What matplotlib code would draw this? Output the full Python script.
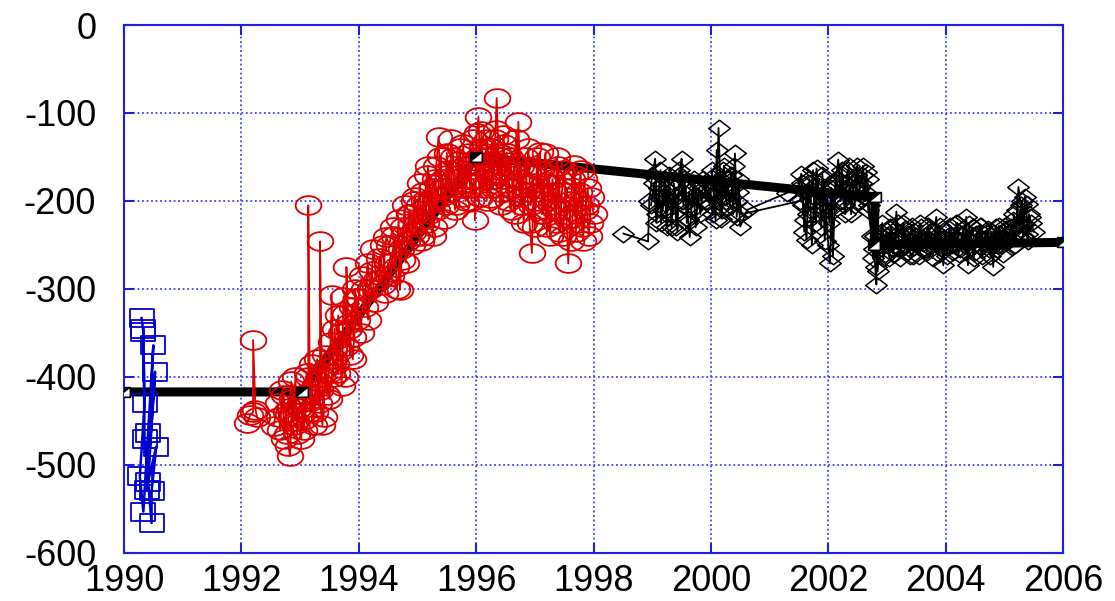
import numpy as np
import matplotlib
matplotlib.use('Agg')
import matplotlib.pyplot as plt
from matplotlib.path import Path

plt.rcParams['font.family'] = ['Liberation Sans', 'DejaVu Sans']
plt.rcParams['axes.unicode_minus'] = False

# blue squares (early measurements)
blue_x = [1990.30, 1990.33, 1990.35, 1990.27, 1990.33, 1990.41, 1990.50, 1990.39,
          1990.53, 1990.41, 1990.55, 1990.47, 1990.47, 1990.35, 1990.33]
blue_y = [-333, -349, -430, -513, -553, -464, -364, -528,
          -394, -519, -479, -530, -566, -470, -345]

# red circles, first trace
red_x = [1992.10, 1992.15, 1992.20, 1992.20, 1992.24, 1992.27, 1992.55,
         1992.62, 1992.66, 1992.70, 1992.73, 1992.76, 1992.80, 1992.83, 1992.86, 1992.89, 1992.92, 1992.95, 1992.98,
         1993.02, 1993.05, 1993.08, 1993.11, 1993.14, 1993.14, 1993.17, 1993.20, 1993.23, 1993.26, 1993.29,
         1993.32, 1993.34, 1993.34, 1993.37, 1993.40, 1993.43, 1993.46, 1993.49,
         1993.52, 1993.54, 1993.56, 1993.59, 1993.62, 1993.65, 1993.68, 1993.71, 1993.74, 1993.77, 1993.79,
         1993.79, 1993.82, 1993.85, 1993.88, 1993.91, 1993.94, 1993.97,
         1994.00, 1994.05, 1994.10, 1994.15, 1994.20, 1994.25, 1994.30, 1994.35, 1994.40, 1994.47, 1994.52,
         1994.58, 1994.63, 1994.68, 1994.70, 1994.73, 1994.78, 1994.82, 1994.87, 1994.92, 1994.96,
         1995.00, 1995.04, 1995.08, 1995.12, 1995.16, 1995.20, 1995.24, 1995.28, 1995.32, 1995.36, 1995.40,
         1995.44, 1995.48,
         1995.52, 1995.56, 1995.60, 1995.64, 1995.68, 1995.72, 1995.76, 1995.80, 1995.84, 1995.88, 1995.92,
         1995.96, 1995.98,
         1996.01, 1996.04, 1996.07, 1996.10, 1996.13, 1996.16, 1996.19, 1996.22, 1996.24, 1996.27, 1996.30,
         1996.33, 1996.35, 1996.38, 1996.41, 1996.44, 1996.47,
         1996.50, 1996.54, 1996.58, 1996.62, 1996.66, 1996.70, 1996.72, 1996.75, 1996.79, 1996.83, 1996.87,
         1996.91, 1996.95, 1996.98,
         1997.02, 1997.06, 1997.09, 1997.12, 1997.16, 1997.20, 1997.24, 1997.28, 1997.32, 1997.36, 1997.40,
         1997.44, 1997.48, 1997.52, 1997.57, 1997.60, 1997.64, 1997.66, 1997.70, 1997.74, 1997.78, 1997.82,
         1997.86, 1997.90, 1997.94]
red_y = [-452, -443, -440, -358, -437, -446, -456,
         -430, -460, -415, -470, -440, -478, -490, -425, -455, -400, -465, -435,
         -470, -420, -448, -395, -420, -205, -440, -385, -455, -410, -380,
         -430, -415, -246, -400, -445, -375, -420, -395,
         -360, -307, -400, -345, -385, -330, -370, -410, -309, -328, -365,
         -275, -340, -375, -320, -355, -300, -335,
         -310, -285, -320, -270, -300, -255, -290, -265, -295, -241, -250,
         -230, -275, -220, -301, -267, -205, -245, -215, -235, -195,
         -225, -180, -240, -200, -170, -215, -185, -230, -160, -127, -195,
         -175, -205,
         -165, -190, -150, -210, -170, -140, -195, -160, -180, -145, -200,
         -175, -222,
         -123, -104, -160, -140, -185, -150, -130, -170, -197, -155, -175,
         -119, -83, -145, -190, -160, -135,
         -165, -200, -150, -185, -215, -160, -110, -175, -205, -150, -190,
         -225, -259, -180,
         -200, -165, -144, -215, -180, -230, -170, -205, -190, -225, -160,
         -210, -240, -185, -271, -220, -175, -159, -235, -200, -165, -245,
         -210, -185, -225]

# red circles, second trace
red2_x = [1992.64, 1992.72, 1992.78, 1992.85, 1992.93, 1993.00, 1993.07, 1993.13, 1993.19, 1993.25,
          1993.31, 1993.38, 1993.44, 1993.50, 1993.57, 1993.63, 1993.70, 1993.76, 1993.83, 1993.90,
          1993.96, 1994.03, 1994.09, 1994.16, 1994.22, 1994.28, 1994.34, 1994.41, 1994.45, 1994.50,
          1994.55, 1994.60, 1994.65, 1994.72, 1994.76, 1994.80, 1994.85, 1994.90, 1994.94, 1994.98,
          1995.02, 1995.06, 1995.10, 1995.14, 1995.18, 1995.22, 1995.26, 1995.30, 1995.34, 1995.38,
          1995.42, 1995.46, 1995.50, 1995.54, 1995.58, 1995.62, 1995.66, 1995.70, 1995.74, 1995.78,
          1995.82, 1995.86, 1995.90, 1995.94, 1995.99, 1996.03, 1996.06, 1996.09, 1996.12, 1996.15,
          1996.18, 1996.21, 1996.26, 1996.29, 1996.32, 1996.37, 1996.40, 1996.43, 1996.46, 1996.49,
          1996.52, 1996.56, 1996.60, 1996.64, 1996.68, 1996.74, 1996.77, 1996.81, 1996.85, 1996.89,
          1996.93, 1996.97, 1997.00, 1997.04, 1997.08, 1997.11, 1997.14, 1997.18, 1997.22, 1997.26,
          1997.30, 1997.34, 1997.38, 1997.42, 1997.46, 1997.50, 1997.54, 1997.58, 1997.62, 1997.68,
          1997.72, 1997.76, 1997.80, 1997.84, 1997.88, 1997.92, 1997.96, 1998.00]
red2_y = [-445, -420, -465, -405, -450, -430, -460, -400, -425, -440,
          -405, -455, -390, -425, -380, -395, -350, -400, -345, -380,
          -310, -350, -300, -335, -280, -315, -290, -250, -305, -270,
          -285, -240, -300, -255, -230, -270, -215, -250, -200, -240,
          -205, -245, -190, -225, -160, -200, -240, -175, -210, -150,
          -185, -220, -145, -190, -130, -175, -205, -155, -185, -135,
          -200, -160, -185, -130, -165, -150, -195, -120, -175, -145,
          -200, -160, -140, -185, -130, -170, -150, -205, -125, -175,
          -145, -185, -210, -165, -130, -195, -160, -225, -180, -140,
          -205, -170, -230, -150, -190, -165, -215, -145, -200, -240,
          -175, -210, -150, -235, -190, -165, -220, -200, -245, -170,
          -215, -190, -230, -175, -205, -240, -195, -215]

# black diamonds, first trace
blk_x = [1998.51, 1998.93, 1998.95, 1999.00, 1999.05, 1999.08, 1999.12, 1999.15, 1999.19, 1999.22,
         1999.26, 1999.30, 1999.33, 1999.37, 1999.41, 1999.44, 1999.48, 1999.50, 1999.53, 1999.57,
         1999.61, 1999.64, 1999.68, 1999.72, 1999.76, 1999.80, 1999.84,
         1999.95, 1999.98, 2000.02, 2000.05, 2000.08, 2000.10, 2000.10, 2000.13, 2000.16, 2000.19,
         2000.22, 2000.26, 2000.30, 2000.34, 2000.38, 2000.41, 2000.44, 2000.47, 2000.50,
         2000.62, 2001.29, 2001.50, 2001.54, 2001.57, 2001.60, 2001.63, 2001.66, 2001.70, 2001.74,
         2001.77, 2001.80, 2001.84, 2001.88, 2001.92, 2001.96, 2002.00, 2002.03, 2002.06, 2002.08,
         2002.12, 2002.17, 2002.21, 2002.25, 2002.29, 2002.33, 2002.37, 2002.41, 2002.45, 2002.49,
         2002.53, 2002.57, 2002.61, 2002.65, 2002.68,
         2002.74, 2002.78, 2002.82, 2002.82, 2002.86, 2002.90, 2002.94, 2002.98,
         2003.02, 2003.06, 2003.10, 2003.14, 2003.16, 2003.20, 2003.24, 2003.28, 2003.32, 2003.36,
         2003.40, 2003.44, 2003.48, 2003.52, 2003.56, 2003.60, 2003.64, 2003.68, 2003.72, 2003.76,
         2003.80, 2003.84, 2003.88, 2003.92, 2003.96, 2004.00, 2004.04, 2004.08, 2004.12, 2004.16,
         2004.20, 2004.24, 2004.28, 2004.32, 2004.35, 2004.38, 2004.42, 2004.46, 2004.50, 2004.54,
         2004.58, 2004.62, 2004.66, 2004.70, 2004.74, 2004.78, 2004.81, 2004.85, 2004.89, 2004.93,
         2004.97, 2005.01, 2005.05, 2005.09, 2005.13,
         2005.16, 2005.20, 2005.24, 2005.28, 2005.32, 2005.35, 2005.38, 2005.38, 2005.42, 2005.46, 2005.50]
blk_y = [-237, -246, -200, -170, -152, -215, -185, -225, -195, -175,
         -210, -190, -230, -180, -229, -200, -170, -152, -205, -185,
         -220, -241, -195, -175, -210, -185, -200,
         -180, -205, -165, -195, -222, -142, -190, -117, -175, -210,
         -160, -200, -185, -170, -215, -146, -218, -190, -229,
         -210, -191, -185, -169, -205, -222, -244, -180, -200, -165,
         -215, -163, -190, -230, -175, -210, -250, -271, -195, -263,
         -180, -153, -200, -170, -215, -165, -190, -175, -205, -160,
         -185, -170, -195, -167, -210,
         -240, -255, -295, -275, -250, -235, -265, -245,
         -250, -230, -260, -240, -212, -245, -255, -225, -250, -238,
         -262, -263, -235, -248, -225, -255, -240, -258, -232, -250,
         -245, -218, -260, -240, -273, -235, -252, -228, -258, -242,
         -225, -255, -238, -250, -218, -273, -245, -230, -258, -240,
         -228, -262, -245, -235, -255, -240, -275, -230, -250, -238,
         -260, -228, -245, -235, -252,
         -215, -230, -184, -205, -240, -195, -203, -237, -215, -225, -235]

# black diamonds, second trace
blk2_x = [1998.98, 1999.03, 1999.07, 1999.11, 1999.14, 1999.18, 1999.21, 1999.25, 1999.28, 1999.32,
          1999.35, 1999.39, 1999.43, 1999.46, 1999.52, 1999.55, 1999.59, 1999.63, 1999.66, 1999.70,
          1999.74, 1999.78, 1999.82, 1999.87, 1999.92, 1999.99, 2000.03, 2000.07, 2000.12, 2000.15,
          2000.18, 2000.21, 2000.24, 2000.28, 2000.32, 2000.36, 2000.40, 2000.43, 2000.46, 2000.52,
          2001.52, 2001.56, 2001.59, 2001.62, 2001.65, 2001.68, 2001.72, 2001.76, 2001.79, 2001.82,
          2001.86, 2001.90, 2001.94, 2001.98, 2002.02, 2002.05, 2002.10, 2002.14, 2002.19, 2002.23,
          2002.27, 2002.31, 2002.35, 2002.39, 2002.43, 2002.47, 2002.51, 2002.55, 2002.59, 2002.63,
          2002.67, 2002.70, 2002.76, 2002.80, 2002.84, 2002.88, 2002.92, 2002.96, 2003.00, 2003.04,
          2003.08, 2003.12, 2003.18, 2003.22, 2003.26, 2003.30, 2003.34, 2003.38, 2003.42, 2003.46,
          2003.50, 2003.54, 2003.58, 2003.62, 2003.66, 2003.70, 2003.74, 2003.78, 2003.82, 2003.86,
          2003.90, 2003.94, 2003.98, 2004.02, 2004.06, 2004.10, 2004.14, 2004.18, 2004.22, 2004.26,
          2004.30, 2004.34, 2004.37, 2004.40, 2004.44, 2004.48, 2004.52, 2004.56, 2004.60, 2004.64,
          2004.68, 2004.72, 2004.76, 2004.80, 2004.83, 2004.87, 2004.91, 2004.95, 2004.99, 2005.03,
          2005.07, 2005.11, 2005.15, 2005.18, 2005.22, 2005.26, 2005.30, 2005.34, 2005.40, 2005.44]
blk2_y = [-205, -180, -225, -195, -165, -210, -185, -230, -170, -200,
          -215, -185, -235, -165, -200, -175, -225, -190, -210, -180,
          -230, -195, -215, -175, -200, -190, -215, -170, -200, -180,
          -220, -165, -195, -175, -205, -185, -160, -200, -175, -215,
          -200, -180, -235, -190, -215, -175, -250, -195, -225, -180,
          -210, -170, -245, -195, -225, -185, -210, -175, -195, -165,
          -205, -180, -160, -215, -185, -170, -200, -180, -160, -190,
          -175, -205, -265, -240, -280, -250, -225, -260, -240, -265,
          -230, -255, -225, -265, -240, -232, -258, -245, -228, -252,
          -240, -262, -230, -248, -255, -228, -245, -265, -235, -250,
          -228, -255, -242, -262, -232, -250, -240, -225, -260, -245,
          -232, -258, -248, -226, -252, -265, -238, -250, -228, -255,
          -242, -232, -262, -248, -236, -255, -228, -250, -242, -232,
          -245, -230, -222, -250, -210, -232, -200, -226, -245, -218]

# thick trend line nodes
trend_x = [1990.0, 1993.03, 1996.0, 2002.80, 2002.78, 2006.0]
trend_y = [-417, -417, -150, -196, -250, -247]


def shape(verts):
    return Path(np.array(verts, dtype=float), closed=True)


t = np.linspace(0, 2 * np.pi, 48)
ellipse = Path(np.column_stack([1.37 * np.cos(t), np.sin(t)]), closed=True)
rect = shape([(-1.33, -1), (1.33, -1), (1.33, 1), (-1.33, 1), (-1.33, -1)])
diamond = shape([(0, -1), (1.3, 0), (0, 1), (-1.3, 0), (0, -1)])
node = shape([(-1.25, -1), (1.25, -1), (1.25, 1), (-1.25, 1), (-1.25, -1)])
node_tri = shape([(-1.25, -1), (1.25, -1), (1.25, 1), (-1.25, -1)])

fig = plt.figure(figsize=(11.15, 6.01), dpi=100)
ax = fig.add_axes([0.1112, 0.0799, 0.8422, 0.8785])

gridc = '#4040ff'
blue = '#0000d0'
red = '#dd0000'
ax.plot(trend_x, trend_y, color='black', lw=6.5, solid_joinstyle='miter', zorder=2)

ax.plot(blue_x, blue_y, color=blue, lw=1.8, marker=rect, ms=17.5,
        mfc='none', mec=blue, mew=1.3, zorder=3)
for xs, ys in [(red_x, red_y), (red2_x, red2_y)]:
    ax.plot(xs, ys, color=red, lw=1.3, marker=ellipse, ms=18.5,
            mfc='none', mec=red, mew=1.3, zorder=3)
for xs, ys in [(blk_x, blk_y), (blk2_x, blk2_y)]:
    ax.plot(xs, ys, color='black', lw=1.3, marker=diamond, ms=15.5,
            mfc='none', mec='black', mew=1.1, zorder=3)

ax.plot(trend_x, trend_y, ls='none', marker=node, ms=9, mfc='black', mec='black', zorder=4)
ax.plot(trend_x, trend_y, ls='none', marker=node_tri, ms=7, mfc='white', mec='none', zorder=5)

ax.set_xlim(1990, 2006)
ax.set_ylim(-600, 0)
ax.set_xticks(np.arange(1990, 2007, 2))
ax.set_yticks(np.arange(-600, 1, 100))
ax.grid(True, color=gridc, ls=(0, (1, 1.5)), lw=1.3)
ax.set_axisbelow(True)

for s in ax.spines.values():
    s.set_color('#1e1ee6')
    s.set_linewidth(1.5)
ax.tick_params(direction='in', length=7, width=1.5, color='#1e1ee6',
               top=True, right=True, labelsize=26, labelcolor='black')
ax.tick_params(axis='y', pad=20)
ax.tick_params(axis='x', pad=8)

fig.savefig('out.png', dpi=100)
